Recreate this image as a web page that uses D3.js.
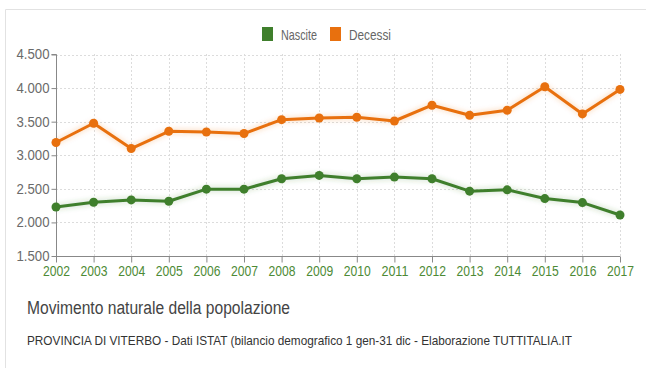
<!DOCTYPE html>
<html>
<head>
<meta charset="utf-8">
<script src="https://cdn.jsdelivr.net/npm/d3@7/dist/d3.min.js"></script>
<style>
  html, body { margin: 0; padding: 0; background: #fff; }
  svg { display: block; font-family: "Liberation Sans Narrow", "Arial Narrow", "Liberation Sans", sans-serif; }
</style>
</head>
<body>
<svg id="chart" width="646" height="369"></svg>
<script>
// Movimento naturale - Provincia di Viterbo
const years = [2002, 2003, 2004, 2005, 2006, 2007, 2008, 2009, 2010, 2011, 2012, 2013, 2014, 2015, 2016, 2017];
const nascite = [2230, 2300, 2335, 2315, 2495, 2495, 2650, 2700, 2650, 2675, 2650, 2465, 2485, 2355, 2295, 2110];
const decessi = [3190, 3476, 3100, 3357, 3347, 3323, 3530, 3555, 3565, 3510, 3745, 3595, 3670, 4020, 3615, 3980];
const yTicks = [1500, 2000, 2500, 3000, 3500, 4000, 4500];
const seriesNames = ["Nascite", "Decessi"];
const seriesColors = ["#3f7f2c", "#e8700e"];

const svg = d3.select("#chart");

// outer frame
svg.append("path")
  .attr("d", "M5.5,368 L5.5,9.5 L646,9.5")
  .attr("fill", "none").attr("stroke", "#e2e2e2").attr("stroke-width", 1);

const x = d3.scalePoint().domain(years).range([56, 620]);
const y = d3.scaleLinear().domain([1500, 4500]).range([256, 54.5]);

const fmt = v => d3.format(",")(v).replace(/,/g, ".");

// grid
const grid = svg.append("g");
grid.selectAll(".gy").data(yTicks.slice(1)).join("line")
  .attr("x1", 56).attr("x2", 620)
  .attr("y1", d => Math.round(y(d)) + 0.5).attr("y2", d => Math.round(y(d)) + 0.5)
  .attr("stroke", "#dcdcdc").attr("stroke-dasharray", "2,2");
grid.selectAll(".gx").data(years.slice(1)).join("line")
  .attr("x1", d => Math.round(x(d)) + 0.5).attr("x2", d => Math.round(x(d)) + 0.5)
  .attr("y1", 54).attr("y2", 256)
  .attr("stroke", "#dcdcdc").attr("stroke-dasharray", "2,2");

// y axis
const yAxis = svg.append("g")
  .attr("transform", "translate(56.5,0)")
  .call(d3.axisLeft(y).tickValues(yTicks).tickFormat(fmt).tickSize(5).tickPadding(2));
yAxis.select(".domain").attr("stroke", "#888").attr("d", `M-5,${y(4500)}H0V${y(1500)}`);
yAxis.selectAll(".tick line").attr("stroke", "#888");
yAxis.selectAll("text").attr("fill", "#6a6a6a").style("font-size", "14px")
  .attr("textLength", 33).attr("lengthAdjust", "spacingAndGlyphs");

// x axis
const xAxis = svg.append("g")
  .attr("transform", "translate(0,256.5)")
  .call(d3.axisBottom(x).tickSize(6).tickPadding(3));
xAxis.select(".domain").attr("stroke", "#888").attr("d", `M56,0H620`);
xAxis.selectAll(".tick line").attr("stroke", "#888");
xAxis.selectAll("text").attr("fill", "#4d8a35").style("font-size", "15px")
  .attr("textLength", 27).attr("lengthAdjust", "spacingAndGlyphs");

// series
const defs = svg.append("defs");
defs.append("filter").attr("id", "glow").attr("x", "-10%").attr("y", "-20%").attr("width", "120%").attr("height", "140%")
  .append("feGaussianBlur").attr("stdDeviation", 2);

const line = d3.line().x((d, i) => x(years[i])).y(d => y(d));
[nascite, decessi].forEach((vals, k) => {
  const g = svg.append("g");
  g.append("path").attr("d", line(vals)).attr("fill", "none")
    .attr("stroke", seriesColors[k]).attr("stroke-opacity", 0.15).attr("stroke-width", 7)
    .attr("filter", "url(#glow)");
  g.append("path").attr("d", line(vals)).attr("fill", "none")
    .attr("stroke", seriesColors[k]).attr("stroke-width", 3).attr("stroke-linejoin", "round");
  g.selectAll("circle").data(vals).join("circle")
    .attr("cx", (d, i) => x(years[i])).attr("cy", d => y(d)).attr("r", 4.5)
    .attr("fill", seriesColors[k]);
});

// legend
const legendX = [262, 330];
const legendW = [36, 42];
seriesNames.forEach((name, k) => {
  svg.append("rect").attr("x", legendX[k]).attr("y", 27).attr("width", 11).attr("height", 14)
    .attr("fill", seriesColors[k]);
  svg.append("text").attr("x", legendX[k] + 19).attr("y", 39.5)
    .attr("fill", "#666").style("font-size", "15px")
    .attr("textLength", legendW[k]).attr("lengthAdjust", "spacingAndGlyphs").text(name);
});

// titles
svg.append("text").attr("x", 27).attr("y", 314).attr("fill", "#444").style("font-size", "18px")
  .attr("textLength", 263).attr("lengthAdjust", "spacingAndGlyphs")
  .text("Movimento naturale della popolazione");
svg.append("text").attr("x", 27).attr("y", 345).attr("fill", "#333").style("font-size", "13px")
  .attr("textLength", 545).attr("lengthAdjust", "spacingAndGlyphs")
  .text("PROVINCIA DI VITERBO - Dati ISTAT (bilancio demografico 1 gen-31 dic - Elaborazione TUTTITALIA.IT");
</script>
</body>
</html>
